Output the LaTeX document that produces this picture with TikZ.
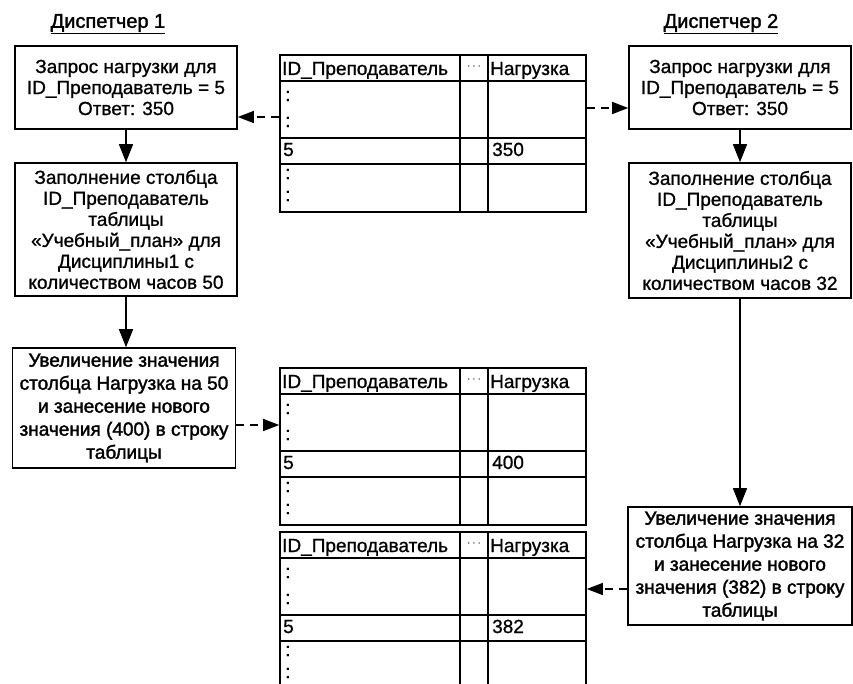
\documentclass[tikz,border=0pt]{standalone}
\usepackage{fontspec}
\setmainfont{Liberation Sans}[FakeBold=1]
\usetikzlibrary{arrows.meta,positioning}

\tikzset{
  txt/.style={font=\fontsize{19}{21}\selectfont, inner sep=0pt},
  box/.style={txt, draw, line width=1.6pt, align=center, minimum width=222pt},
  heavy/.style={font=\fontsize{19}{23}\selectfont\addfontfeature{FakeBold=1.8}},
  tbl/.style={draw, line width=1.6pt, minimum width=306pt, minimum height=157pt, inner sep=0pt},
  grid/.style={line width=1.4pt},
  col/.style={line width=2pt},
  flow/.style={line width=1.4pt, -{Triangle[length=18pt,width=14pt]}},
  link/.style={line width=1.2pt, dash pattern=on 8pt off 6pt, -{Triangle[length=16pt,width=12pt]}},
  title/.style={font=\fontsize{20}{22}\selectfont\addfontfeature{FakeBold=1.6}, inner sep=0pt}
}

\begin{document}
\begin{tikzpicture}[x=1pt, y=-1pt]
\useasboundingbox (0,0) rectangle (853,684);

% two dispatchers
\node[title] (d1) at (108,24) {\underline{Диспетчер 1}};
\node[title] (d2) at (721,24) {\underline{Диспетчер 2}};

% first dispatcher
\node[box, minimum height=83pt] (a1) at (126,87.5) {Запрос нагрузки для\\ID\_Преподаватель = 5\\Ответ: 350};
\node[box, minimum height=133pt] (b1) at (126,229.5) {Заполнение столбца\\ID\_Преподаватель\\таблицы\\«Учебный\_план» для\\Дисциплины1 с\\количеством часов 50};
\node[box, heavy, minimum height=120pt, minimum width=223pt] (c1) at (124,408) {Увеличение значения\\столбца Нагрузка на 50\\и занесение нового\\значения (400) в строку\\таблицы};

% second dispatcher
\node[box, minimum height=83pt] (a2) at (740,87.5) {Запрос нагрузки для\\ID\_Преподаватель = 5\\Ответ: 350};
\node[box, minimum height=135pt] (b2) at (740,230.5) {Заполнение столбца\\ID\_Преподаватель\\таблицы\\«Учебный\_план» для\\Дисциплины2 с\\количеством часов 32};
\node[box, heavy, minimum height=118pt, minimum width=224pt] (c2) at (740,566) {Увеличение значения\\столбца Нагрузка на 32\\и занесение нового\\значения (382) в строку\\таблицы};

% table snapshots
\foreach \tb/\ty/\tv in {t1/55/350, t2/368/400, t3/532/382}{
  \node[tbl] (\tb) at (433,\ty+78.5) {};
  \draw[grid] (280,\ty+26) -- (586,\ty+26)
              (280,\ty+83) -- (586,\ty+83)
              (280,\ty+109) -- (586,\ty+109);
  \draw[col] (460,\ty) -- (460,\ty+157) (488,\ty) -- (488,\ty+157);
  \node[txt, anchor=base west] (\tb-id) at (282,\ty+20) {ID\_Преподаватель};
  \node[txt] (\tb-more) at (474,\ty+12) {\fontsize{13}{13}\selectfont$\cdots$};
  \node[txt, anchor=base west] (\tb-load) at (490,\ty+20) {Нагрузка};
  \node[txt, anchor=west] (\tb-c1) at (285,\ty+41) {:};
  \node[txt, anchor=west] (\tb-c2) at (285,\ty+67) {:};
  \node[txt, anchor=base west] (\tb-key) at (283,\ty+101) {5};
  \node[txt, anchor=base west] (\tb-val) at (492,\ty+101) {\tv};
  \node[txt, anchor=west] (\tb-c3) at (285,\ty+119) {:};
  \node[txt, anchor=west] (\tb-c4) at (285,\ty+141) {:};
}

% control flow
\draw[flow] (a1) -- (b1);
\draw[flow] (b1.south) -- (b1.south |- c1.north);
\draw[flow] (a2) -- (b2);
\draw[flow] (b2.south) -- (b2.south |- c2.north);

% reads and writes
\draw[link] (t1.west |- 0,117) -- (a1.east |- 0,117);
\draw[link] (t1.east |- 0,108) -- (a2.west |- 0,108);
\draw[link] (c1.east |- 0,425) -- (t2.west |- 0,425);
\draw[link] (c2.west |- 0,589) -- (t3.east |- 0,589);
\end{tikzpicture}
\end{document}
